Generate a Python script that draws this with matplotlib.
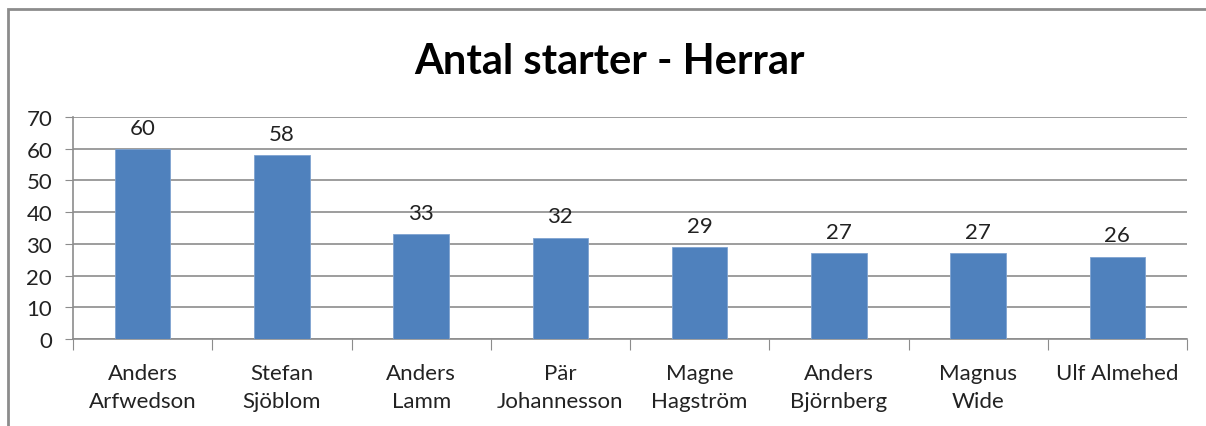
import matplotlib
matplotlib.use("Agg")
import matplotlib.pyplot as plt
from matplotlib.patches import Rectangle

categories = ["Anders\nArfwedson", "Stefan\nSjöblom", "Anders\nLamm", "Pär\nJohannesson",
              "Magne\nHagström", "Anders\nBjörnberg", "Magnus\nWide", "Ulf Almehed"]
values = [60, 58, 33, 32, 29, 27, 27, 26]
yticks = [0, 10, 20, 30, 40, 50, 60, 70]
title = "Antal starter - Herrar"

plt.rcParams['font.family'] = ['Lato', 'DejaVu Sans']
W, H = 1206, 427
fig = plt.figure(figsize=(W/100, H/100), dpi=100)
fig.patch.set_facecolor("white")

# outer chart border
fig.add_artist(Rectangle((8/W, 1 - 430/H), 1210/W, 420/H, transform=fig.transFigure,
                         fill=False, edgecolor="#8c8c8c", linewidth=2))

left, right = 73, 1187
top, bottom = 118, 340
ax = fig.add_axes([left/W, 1 - bottom/H, (right-left)/W, (bottom-top)/H])
x = list(range(len(categories)))
bars = ax.bar(x, values, width=0.4, color="#4F81BD", edgecolor="#7FA3D0", linewidth=0.6, zorder=3)
ax.set_xlim(-0.5, len(categories) - 0.5)
ax.set_ylim(0, 70)
ax.set_yticks(yticks)
ax.set_yticklabels([str(t) for t in yticks], fontsize=16, color="#222222")
ax.yaxis.grid(True, color="#8c8c8c", linewidth=1.2, zorder=0)
ax.set_axisbelow(True)
for s in ["top", "right"]:
    ax.spines[s].set_visible(False)
for s in ["left", "bottom"]:
    ax.spines[s].set_color("#8c8c8c")
    ax.spines[s].set_linewidth(1.2)
ax.tick_params(axis="y", length=6, color="#8c8c8c", pad=9, direction="out")
ax.set_xticks([i - 0.5 for i in range(len(categories) + 1)], minor=False)
ax.set_xticklabels([])
ax.tick_params(axis="x", which="major", length=8, color="#8c8c8c", direction="out")
ax.set_xticks(x, minor=True)
ax.set_xticklabels(categories, minor=True, fontsize=16, color="#222222", linespacing=1.55)
ax.tick_params(axis="x", which="minor", length=0, pad=17)

for xi, v in zip(x, values):
    ax.annotate(str(v), (xi, v), xytext=(0, 8), textcoords="offset points",
                ha="center", va="bottom", fontsize=16, color="#222222")

fig.text(609/W, 1 - 62/H, title, ha="center", va="center", fontsize=30, fontweight="bold", color="black")

fig.savefig("out.png", dpi=100)
